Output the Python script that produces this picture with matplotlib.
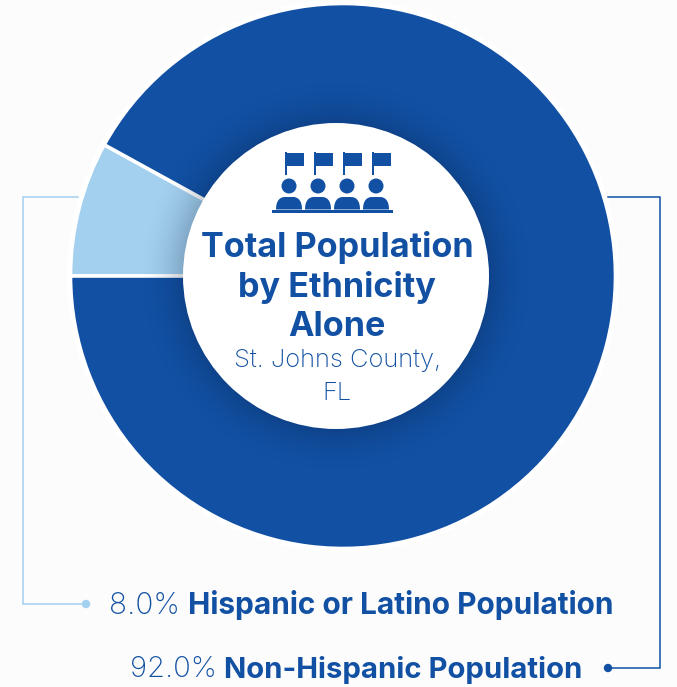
import matplotlib
matplotlib.use('Agg')
import matplotlib.pyplot as plt
import numpy as np
from matplotlib.patches import Circle, PathPatch, Rectangle
from matplotlib.path import Path

W, H = 677, 687
DARK = '#1150a3'
LIGHT = '#a3d0ef'
BG = '#fcfcfc'

categories = ['Hispanic or Latino Population', 'Non-Hispanic Population']
shares = [8.0, 92.0]
share_labels = ['8.0%', '92.0%']
title_lines = ['Total Population', 'by Ethnicity', 'Alone']
sub_lines = ['St. Johns County,', 'FL']


def py(y):
    # pixel rows in the picture count from the top
    return H - y


def body(cx, base):
    # rounded shoulders of the little person
    verts = [(cx - 13, base), (cx - 13, base + 9), (cx - 9, base + 12.5), (cx - 4, base + 12.5),
             (cx + 4, base + 12.5), (cx + 9, base + 12.5), (cx + 13, base + 9), (cx + 13, base),
             (cx - 13, base)]
    codes = [Path.MOVETO, Path.CURVE4, Path.CURVE4, Path.CURVE4, Path.LINETO,
             Path.CURVE4, Path.CURVE4, Path.CURVE4, Path.CLOSEPOLY]
    return PathPatch(Path(verts, codes), fc=DARK, ec='none', zorder=5)


fig = plt.figure(figsize=(W / 100, H / 100), dpi=100, facecolor=BG)
ax = fig.add_axes([0, 0, 1, 1])

ax.add_patch(Circle((343, py(276)), 276, fc='white', ec='none', zorder=0))
wedges, _ = ax.pie(shares, colors=[LIGHT, DARK], startangle=180, counterclock=False,
                   center=(343, py(276)), radius=272.5,
                   wedgeprops={'edgecolor': 'white', 'linewidth': 2.6})

# soft shadow round the hole
R_HOLE, R_SHADOW = 153, 200
xx, yy = np.meshgrid(np.arange(R_SHADOW * 2 + 1) - R_SHADOW, np.arange(R_SHADOW * 2 + 1) - R_SHADOW)
fade = np.clip((R_SHADOW - np.hypot(xx, yy)) / (R_SHADOW - R_HOLE), 0, 1)
shade = np.zeros(fade.shape + (4,))
shade[..., :3] = (0.03, 0.09, 0.2)
shade[..., 3] = 0.22 * fade ** 2
ax.imshow(shade, extent=(336 - R_SHADOW, 336 + R_SHADOW, py(276) - R_SHADOW, py(276) + R_SHADOW),
          origin='lower', interpolation='bilinear', zorder=3)
ax.add_patch(Circle((336, py(276)), R_HOLE, fc='white', ec='none', zorder=4))

ax.set_xlim(0, W)
ax.set_ylim(0, H)
ax.set_aspect('equal')
ax.axis('off')

# icon
for px in (286, 315, 344, 373):
    ax.add_patch(Rectangle((px - 0.8, py(175)), 1.6, 23, fc=DARK, ec='none', zorder=5))
    ax.add_patch(Rectangle((px, py(166)), 18, 13, fc=DARK, ec='none', zorder=5))
for px in (289, 318, 347, 376):
    ax.add_patch(Circle((px, py(186)), 7.5, fc=DARK, ec='none', zorder=5))
    ax.add_patch(body(px, py(209.5)))
ax.add_patch(Rectangle((272, py(212.5)), 121, 2.6, fc=DARK, ec='none', zorder=5))

# centre text
for s, y in zip(title_lines, (247.5, 287.5, 327)):
    ax.text(337, py(y), s, ha='center', va='center', color=DARK, family='Inter',
            fontweight='bold', fontsize=24.6, zorder=6)
for s, y in zip(sub_lines, (361, 394)):
    ax.text(337, py(y), s, ha='center', va='center', color=DARK, family='Inter',
            fontweight='light', fontsize=18.4, zorder=6)

# leaders
ax.plot([78, 23, 23, 86], [py(197), py(197), py(604), py(604)], color=LIGHT, lw=1.1,
        solid_joinstyle='miter', zorder=1)
ax.add_patch(Circle((86, py(604)), 4.2, fc=LIGHT, ec='none', zorder=2))
ax.plot([608, 660, 660, 608], [py(197), py(197), py(668), py(668)], color=DARK, lw=1.1,
        solid_joinstyle='miter', zorder=1)
ax.add_patch(Circle((608, py(668)), 4.2, fc=DARK, ec='none', zorder=2))

# legend rows, light number then bold name
fig.canvas.draw()
rend = fig.canvas.get_renderer()
for lab, cat, x0, y, size in zip(share_labels, categories, (109, 130), (602.5, 666.5), (21.5, 21.1)):
    t = ax.text(x0, py(y), lab, ha='left', va='center_baseline', color=DARK, family='Inter',
                fontweight='light', fontsize=size, zorder=6)
    x1 = t.get_window_extent(rend).x1 + 7.5
    ax.text(x1, py(y), cat, ha='left', va='center_baseline', color=DARK, family='Inter',
            fontweight='bold', fontsize=size, zorder=6)

fig.savefig('out.png', dpi=100, facecolor=BG)
